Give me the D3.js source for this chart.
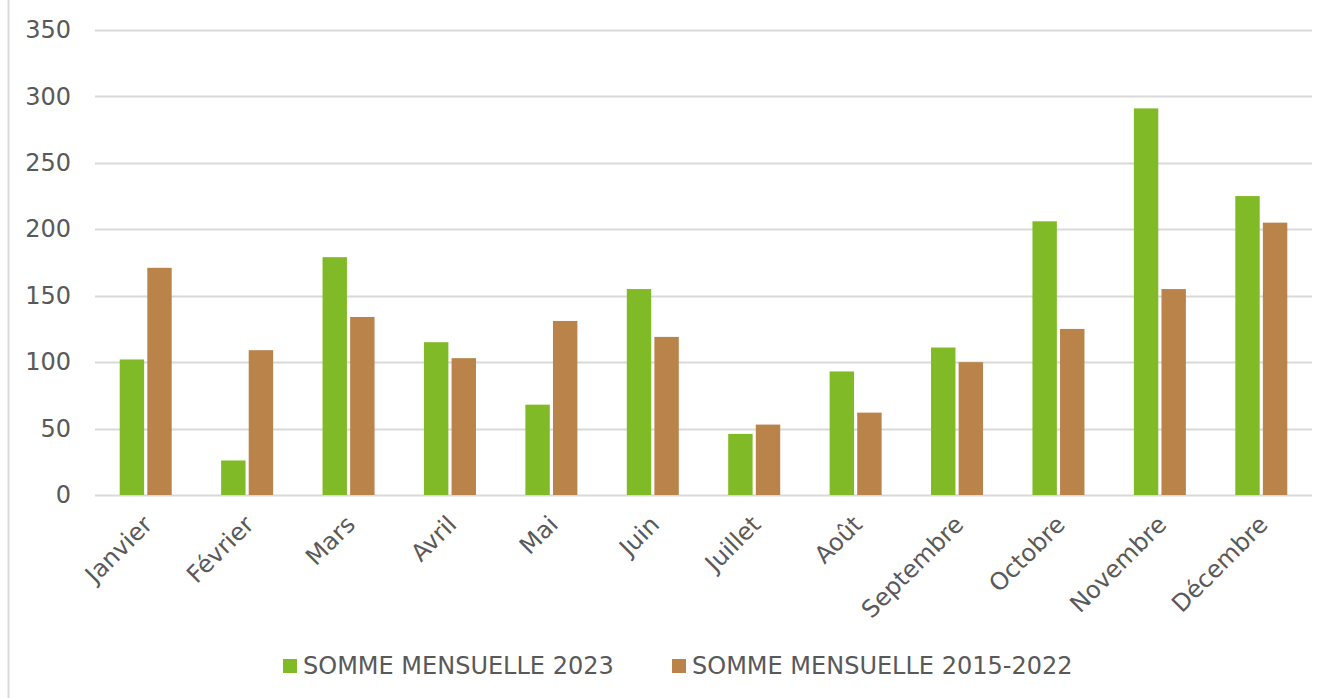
<!DOCTYPE html>
<html>
<head>
<meta charset="utf-8">
<script src="https://cdn.jsdelivr.net/npm/d3@7"></script>
<style>
  body { margin: 0; background: #fff; }
  text { font-family: "DejaVu Sans", Verdana, sans-serif; fill: #595959; }
</style>
</head>
<body>
<script>
// Données mensuelles
var mois = ['Janvier', 'Février', 'Mars', 'Avril', 'Mai', 'Juin', 'Juillet', 'Août', 'Septembre', 'Octobre', 'Novembre', 'Décembre'];
var somme2023 = [102, 26, 179, 115, 68, 155, 46, 93, 111, 206, 291, 225];
var somme2015_2022 = [171, 109, 134, 103, 131, 119, 53, 62, 100, 125, 155, 205];
var series = ['SOMME MENSUELLE 2023', 'SOMME MENSUELLE 2015-2022'];
var couleurs = ['#80ba27', '#b9834a'];
var yTicks = [0, 50, 100, 150, 200, 250, 300, 350];

var W = 1329, H = 698;
var margin = { top: 30, right: 17, bottom: 203, left: 95 };
var width = W - margin.left - margin.right;
var height = H - margin.top - margin.bottom;

var svg = d3.select('body').append('svg')
  .attr('width', W)
  .attr('height', H);

// bordure gauche
svg.append('line')
  .attr('x1', 8.5).attr('x2', 8.5)
  .attr('y1', 0).attr('y2', H)
  .attr('stroke', '#d9d9d9').attr('stroke-width', 2);

var g = svg.append('g')
  .attr('transform', 'translate(' + margin.left + ',' + margin.top + ')');

var x = d3.scaleBand().domain(mois).range([0, width]);
var y = d3.scaleLinear().domain([0, 350]).range([height, 0]);

// grille
g.selectAll('.grid')
  .data(yTicks)
  .enter().append('line')
  .attr('class', 'grid')
  .attr('x1', 0).attr('x2', width)
  .attr('y1', function(d) { return Math.round(y(d)) + 0.5; })
  .attr('y2', function(d) { return Math.round(y(d)) + 0.5; })
  .attr('stroke', '#d9d9d9').attr('stroke-width', 2);

// axe Y
var yAxis = d3.axisLeft(y).tickValues(yTicks).tickSize(0).tickPadding(24);
g.append('g').call(yAxis)
  .call(function(a) { a.select('.domain').remove(); })
  .selectAll('text')
  .style('font-size', '24px')
  .style('font-family', '"DejaVu Sans", Verdana, sans-serif')
  .attr('fill', '#595959');

// barres
var barW = 23, gap = 6;
var x1 = d3.scaleBand().domain(series).range([x.bandwidth() / 2 - barW - gap / 2, x.bandwidth() / 2 + gap / 2 + barW]).paddingInner(gap / (2 * barW + gap));

[somme2023, somme2015_2022].forEach(function(vals, i) {
  g.selectAll('.bar' + i)
    .data(vals)
    .enter().append('rect')
    .attr('class', 'bar' + i)
    .attr('x', function(d, j) { return x(mois[j]) + x1(series[i]); })
    .attr('y', function(d) { return y(d); })
    .attr('width', x1.bandwidth())
    .attr('height', function(d) { return height - y(d); })
    .attr('fill', couleurs[i]);
});

// axe X
var xAxis = d3.axisBottom(x).tickSize(0).tickPadding(0);
g.append('g')
  .attr('transform', 'translate(0,' + height + ')')
  .call(xAxis)
  .call(function(a) { a.select('.domain').remove(); })
  .selectAll('text')
  .style('font-size', '24px')
  .style('font-family', '"DejaVu Sans", Verdana, sans-serif')
  .attr('fill', '#595959')
  .style('text-anchor', 'end')
  .attr('dx', '0')
  .attr('dy', '0')
  .attr('transform', 'translate(8,31) rotate(-45)');

// légende
var legX = [283, 672];
var leg = svg.selectAll('.leg')
  .data(series)
  .enter().append('g')
  .attr('transform', function(d, i) { return 'translate(' + legX[i] + ',659)'; });
leg.append('rect')
  .attr('width', 14).attr('height', 14)
  .attr('fill', function(d, i) { return couleurs[i]; });
leg.append('text')
  .attr('x', 20).attr('y', 15)
  .style('font-size', '24px')
  .text(function(d) { return d; });
</script>
</body>
</html>
